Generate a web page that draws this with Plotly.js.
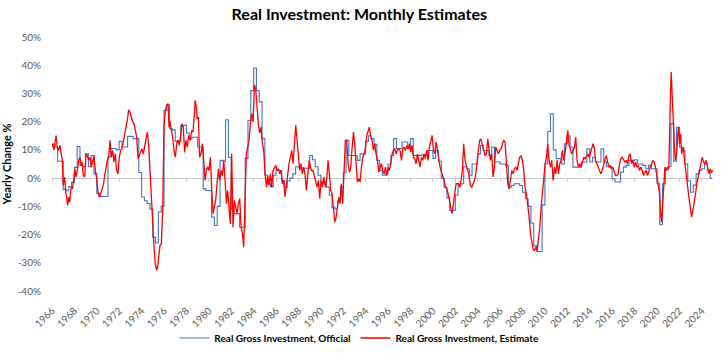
<!DOCTYPE html>
<html><head><meta charset="utf-8">
<script src="https://cdn.plot.ly/plotly-3.0.1.min.js"></script>
<style>html,body{margin:0;padding:0;background:#fff}#chart{width:723px;height:354px}</style>
</head><body><div id="chart"></div>
<script>
// Official series: quarterly yearly change %, starting 1966 Q1
const officialStartYear = 1966;
const officialQuarterly = [
 12, 11, 6, 6,            // 1966
 -4, -4.5, -3, -1.5,      // 1967
 3.8, 11.2, 4.5, 4,       // 1968
 8.6, 4, 8, 1.5,          // 1969
 -5.5, -6.5, -6.5, -6.5,  // 1970
 7.5, 10.5, 10.5, 10,     // 1971
 13, 11, 11, 14.8,        // 1972
 14.8, 14, 14, 2,         // 1973
 -6.7, -8, -9, -11,       // 1974
 -21, -23, -12, -10,      // 1975
 24, 26, 17.5, 17,        // 1976
 13, 13, 18.7, 18.7,      // 1977
 16, 14, 14.5, 14.5,      // 1978
 11, 11, -3.8, -4.4,      // 1979
 -4.5, -13.8, -16.8, -10, // 1980
 6.3, 6, 20.7, 7.4,       // 1981
 -11, -12.6, -12.6, -17.4,// 1982
 -17.4, 7, 20.4, 31,      // 1983
 39, 31, 27, 14,          // 1984
 1, -2, -3, 1,            // 1985
 2.7, 2.7, -0.9, -3.2,    // 1986
 -1, 0, 1.5, 4,           // 1987
 3.9, 3.5, 3.5, 3.5,      // 1988
 8, 6.5, 4, 1,            // 1989
 -1.4, -1.4, -3.2, -6,    // 1990
 -10.3, -10.9, -8, -3,    // 1991
 2, 13.4, 8, 8,           // 1992
 8, 6.3, 8.6, 8.6,        // 1993
 13, 15, 14, 12,          // 1994
 6.3, 2.7, 1, 1.5,        // 1995
 5, 8, 14, 10.5,          // 1996
 10.5, 12.8, 12.8, 10.4,  // 1997
 14, 8, 8, 8,             // 1998
 8.3, 8.3, 9.8, 9.8,      // 1999
 7, 9.8, 6, 0,            // 2000
 -3.2, -7, -11.5, -11.5,  // 2001
 -6, -2.6, -2, 4,         // 2002
 3.3, 1, 5, 5,            // 2003
 8.6, 11.6, 9.8, 9.8,     // 2004
 8, 11, 5.7, 5.7,         // 2005
 5, 5, 4.5, -3.2,         // 2006
 -2.6, -2, -2, -2.6,      // 2007
 -5, -7.3, -10, -16,      // 2008
 -24, -26, -26, -9.5,     // 2009
 5, 16.5, 22.8, 10,       // 2010
 6.9, 6.9, 5, 12.2,       // 2011
 15, 11, 3.9, 3.9,        // 2012
 3.9, 5.7, 5.7, 10.4,     // 2013
 5.7, 7.4, 5.7, 5.7,      // 2014
 10.4, 5.7, 4, 3.9,       // 2015
 -0.2, -1.4, -1.4, 2.1,   // 2016
 3.9, 4.5, 6.3, 6.3,      // 2017
 6.5, 5, 5, 4.5,          // 2018
 3.3, 4.5, 3.3, 3.3,      // 2019
 -2, -16.5, -2, 3,        // 2020
 4, 19.3, 6, 18,          // 2021
 11, 9.8, 5, -1,          // 2022
 -5, -2.5, 1.5, 2.7,      // 2023
 3.3, 5, 2.7, 0           // 2024
];
const officialEnd = "2024-12-01";

// Estimate series: monthly-ish readings (decimal year, yearly change %)
const estimateTimes = [
1966.00,1966.06,1966.18,1966.36,1966.47,1966.59,1966.71,1966.80,1966.92,1967.01,1967.13,1967.22,1967.31,1967.40,1967.49,1967.58,1967.67,1967.75,1967.84,1967.96,
1968.05,1968.14,1968.26,1968.38,1968.50,1968.59,1968.68,1968.80,1968.92,1969.03,1969.15,1969.27,1969.39,1969.51,1969.63,1969.75,1969.87,1969.99,
1970.11,1970.22,1970.34,1970.46,1970.58,1970.70,1970.82,1970.94,1971.06,1971.18,1971.30,1971.42,1971.53,1971.65,1971.77,1971.89,
1972.01,1972.13,1972.25,1972.37,1972.49,1972.61,1972.72,1972.84,1972.96,1973.08,1973.20,1973.32,1973.44,1973.56,1973.68,1973.80,1973.92,
1974.03,1974.15,1974.27,1974.39,1974.51,1974.63,1974.75,1974.87,1974.99,1975.11,1975.22,1975.34,1975.43,1975.52,1975.64,1975.76,1975.88,
1976.00,1976.12,1976.24,1976.36,1976.45,1976.53,1976.65,1976.77,1976.89,1977.01,1977.13,1977.25,1977.37,1977.49,1977.61,1977.72,1977.84,1977.96,
1978.08,1978.20,1978.35,1978.47,1978.59,1978.71,1978.77,1978.89,1978.95,1979.07,1979.18,1979.30,1979.42,1979.54,1979.66,1979.78,1979.90,
1980.02,1980.14,1980.26,1980.38,1980.49,1980.61,1980.73,1980.85,1980.97,1981.09,1981.21,1981.33,1981.45,1981.57,1981.68,1981.80,1981.92,
1982.04,1982.16,1982.28,1982.40,1982.52,1982.64,1982.76,1982.88,1983.00,1983.11,1983.23,1983.35,1983.47,1983.59,1983.71,1983.83,1983.95,
1984.07,1984.18,1984.30,1984.42,1984.54,1984.66,1984.78,1984.90,1985.02,1985.14,1985.26,1985.37,1985.49,1985.61,1985.73,1985.85,1985.97,
1986.09,1986.21,1986.33,1986.45,1986.57,1986.68,1986.80,1986.92,1987.04,1987.16,1987.28,1987.40,1987.52,1987.64,1987.76,1987.88,
1988.00,1988.11,1988.23,1988.35,1988.47,1988.59,1988.71,1988.83,1988.95,1989.07,1989.18,1989.30,1989.42,1989.54,1989.66,1989.78,1989.90,
1990.02,1990.14,1990.26,1990.41,1990.53,1990.64,1990.76,1990.88,1991.00,1991.12,1991.24,1991.36,1991.48,1991.60,1991.72,1991.83,1991.95,
1992.07,1992.19,1992.31,1992.43,1992.55,1992.67,1992.79,1992.91,1993.02,1993.14,1993.26,1993.38,1993.50,1993.62,1993.74,1993.86,1993.98,
1994.10,1994.22,1994.33,1994.45,1994.57,1994.69,1994.81,1994.93,1995.05,1995.17,1995.29,1995.41,1995.52,1995.64,1995.76,1995.88,
1996.00,1996.12,1996.24,1996.36,1996.48,1996.60,1996.72,1996.83,1996.95,1997.07,1997.19,1997.31,1997.43,1997.55,1997.67,1997.79,1997.91,
1998.02,1998.14,1998.26,1998.38,1998.50,1998.62,1998.74,1998.86,1998.98,1999.10,1999.21,1999.33,1999.45,1999.57,1999.69,1999.81,1999.93,
2000.05,2000.17,2000.29,2000.40,2000.52,2000.64,2000.76,2000.88,2001.00,2001.12,2001.24,2001.36,2001.48,2001.60,2001.71,2001.83,2001.95,
2002.07,2002.28,2002.40,2002.52,2002.63,2002.75,2002.87,2002.99,2003.11,2003.23,2003.35,2003.47,2003.59,2003.71,2003.83,2003.94,
2004.06,2004.18,2004.30,2004.42,2004.54,2004.66,2004.78,2004.90,2005.02,2005.13,2005.25,2005.37,2005.49,2005.61,2005.73,2005.85,2005.97,
2006.09,2006.21,2006.33,2006.44,2006.56,2006.68,2006.80,2006.92,2007.04,2007.16,2007.28,2007.40,2007.52,2007.63,2007.75,2007.87,2007.99,
2008.11,2008.23,2008.35,2008.47,2008.59,2008.71,2008.83,2008.94,2009.06,2009.18,2009.30,2009.42,2009.54,2009.66,2009.78,2009.90,
2010.02,2010.13,2010.25,2010.37,2010.49,2010.61,2010.73,2010.85,2010.97,2011.09,2011.21,2011.33,2011.44,2011.56,2011.68,2011.80,2011.92,
2012.04,2012.16,2012.28,2012.40,2012.52,2012.64,2012.75,2012.87,2012.99,2013.11,2013.23,2013.35,2013.47,2013.59,2013.71,2013.83,2013.95,
2014.06,2014.18,2014.30,2014.42,2014.52,2014.64,2014.75,2014.87,2014.99,2015.11,2015.23,2015.35,2015.47,2015.59,2015.71,2015.83,2015.94,
2016.06,2016.18,2016.30,2016.42,2016.54,2016.66,2016.78,2016.90,2017.02,2017.14,2017.25,2017.37,2017.49,2017.61,2017.73,2017.85,2017.97,
2018.09,2018.21,2018.33,2018.44,2018.56,2018.68,2018.80,2018.92,2019.04,2019.16,2019.28,2019.40,2019.52,2019.64,2019.75,2019.87,2019.99,
2020.11,2020.23,2020.35,2020.41,2020.50,2020.59,2020.71,2020.83,2020.94,2021.06,2021.12,2021.21,2021.27,2021.36,2021.42,2021.48,2021.57,2021.66,2021.75,2021.84,2021.93,
2022.02,2022.11,2022.20,2022.28,2022.37,2022.46,2022.55,2022.64,2022.73,2022.85,2022.97,2023.09,2023.21,2023.33,2023.44,2023.56,2023.68,2023.80,2023.92,
2024.04,2024.16,2024.28,2024.40,2024.52,2024.64,2024.75,2024.87,2024.99
];
const estimateValues = [
11,12.2,10.0,15.1,11.0,9.8,11.6,8.6,6.3,-2.6,0.4,-4.4,-7.9,-9.7,-6.7,-8.5,-4.4,-3.2,-3.8,-0.2,
3.3,0.4,2.7,6.3,7.4,4.5,5.7,0.9,0.4,8.6,8.0,6.3,7.4,3.9,6.3,8.0,2.7,-0.2,
-5.0,-6.7,-5.6,-3.8,-2.6,0.9,3.9,6.3,7.4,13.4,7.4,9.8,5.7,8.6,2.7,1.5,
7.4,9.8,10.4,13.4,16.3,18.1,20.4,24.2,23.4,21.6,19.9,19.3,16.3,14.5,6.9,8.0,9.8,
10.4,8.6,11.0,13.9,16.3,11.6,1.5,-9.1,-17.4,-24.5,-30.4,-32.7,-31.6,-26.8,-23.9,-23.3,-11.5,
18.1,24.0,25.8,26.4,18.1,20.4,16.9,14.5,9.8,7.4,12.2,13.4,11.6,15.7,19.3,18.1,9.2,13.4,
11.0,15.1,13.4,16.9,16.3,22.8,27.5,25.2,21.0,21.6,7.4,8.6,12.2,6.3,-0.8,2.7,3.9,
2.7,7.4,-4.4,-12.6,-10.3,-7.9,-2.0,3.3,-0.8,2.7,0.9,6.3,-0.8,-9.1,-4.4,-10.3,-16.2,
8.6,-17.4,-7.9,-10.3,-12.6,-9.1,-7.3,-17.4,-19.7,-24.5,-5.6,8.6,11.0,13.4,19.3,22.8,19.9,
33.0,31.7,24.0,19.3,16.0,18.1,12.2,9.8,1.5,-3.2,0.9,-2.6,1.5,-3.2,2.7,3.9,4.5,
2.7,3.3,1.5,2.7,-2.0,-0.8,-6.7,-2.0,2.7,5.1,7.4,9.8,5.1,12.2,18.7,13.4,
6.3,2.7,5.1,1.5,3.9,1.5,-4.4,1.5,6.3,3.9,2.7,2.7,0.4,-2.0,-3.2,-0.8,-7.3,
-0.8,-3.2,0.4,-3.2,-0.2,6.3,1.5,-4.4,-5.6,-11.5,-15.6,-13.8,-10.3,-6.7,-9.1,-2.0,-9.1,
2.7,13.4,13.4,5.1,2.1,3.9,11.0,16.3,12.2,5.1,-1.4,-0.2,-1.4,3.9,7.4,8.6,11.0,
15.1,16.3,18.1,14.5,13.4,9.8,12.2,8.6,6.3,2.1,3.9,5.1,2.7,1.5,3.9,0.9,
3.9,2.7,5.1,8.6,9.8,10.4,8.6,10.0,10.4,9.8,6.3,10.4,11.0,9.8,11.6,10.4,12.2,
9.2,11.6,7.4,6.9,5.1,8.6,6.3,3.9,7.4,6.3,8.6,6.9,9.8,6.3,11.0,13.4,15.1,
9.8,8.6,12.8,9.8,8.0,3.9,2.1,0.9,-0.8,-3.2,-3.8,-5.6,-7.9,-10.3,-12.6,-9.1,-5.6,
-2.0,-2.0,-3.2,-0.8,2.7,12.2,6.3,4.5,2.7,0.9,-2.6,-3.2,-2.0,-0.8,1.5,6.3,
9.8,13.4,13.9,11.6,9.8,8.0,8.6,13.9,9.8,6.3,8.6,0.4,3.9,11.0,9.8,8.6,9.8,
10.4,12.2,13.4,12.8,6.3,-2.0,-3.8,0.4,2.7,1.5,3.3,3.9,2.7,5.1,7.4,8.0,6.3,
2.7,-3.2,-5.6,-9.1,-13.8,-19.7,-23.3,-25.1,-25.7,-24.5,-25.7,-22.1,-17.4,-10.3,-4.4,0.4,
5.1,7.4,12.2,6.3,3.9,6.3,-0.8,3.9,1.5,6.3,1.5,5.1,6.3,9.8,6.3,8.6,12.2,
16.9,11.6,9.8,8.6,9.8,11.0,14.5,6.3,3.9,5.1,3.9,6.3,7.4,6.9,8.0,8.6,7.4,
9.2,11.0,12.2,10.4,6.3,5.1,3.9,2.7,1.5,2.7,5.1,6.3,8.0,6.3,3.9,4.5,3.3,
3.9,2.7,0.9,0.9,1.5,5.1,6.9,7.4,6.3,5.7,6.3,5.1,8.0,8.6,5.1,6.3,3.9,
5.7,3.9,4.5,2.7,3.9,2.7,0.9,2.1,2.7,0.9,2.7,3.9,5.1,6.3,5.7,3.9,0.9,
-3.2,-5.6,-13.8,-15.6,-10.3,-2.0,3.9,2.7,3.9,3.3,18.1,29.9,37.6,28.7,18.1,13.4,9.8,6.3,8.6,14.5,18.1,
12.2,15.7,8.6,10.4,11.0,6.3,2.7,-0.8,-3.2,-6.7,-10.3,-13.8,-11.5,-9.1,-5.6,-2.0,0.4,2.7,6.3,
7.4,5.7,5.1,6.3,3.9,1.5,3.3,2.1,2.7
];

const seriesNames = ["Real Gross Investment, Official", "Real Gross Investment, Estimate"];
const yTickVals = [-40, -30, -20, -10, 0, 10, 20, 30, 40, 50];
const yTickText = ["-40%", "-30%", "-20%", "-10%", "0%", "10%", "20%", "30%", "40%", "50%"];

function decYearToDate(t) {
  const y = Math.floor(t);
  const a = Date.UTC(y, 0, 1), b = Date.UTC(y + 1, 0, 1);
  return new Date(a + (t - y) * (b - a)).toISOString().slice(0, 10);
}
function quarterDate(i) {
  const y = officialStartYear + Math.floor(i / 4);
  const m = (i % 4) * 3 + 1;
  return y + "-" + String(m).padStart(2, "0") + "-01";
}

const offX = officialQuarterly.map((v, i) => quarterDate(i));
const offY = officialQuarterly.slice();
offX.push(officialEnd);
offY.push(officialQuarterly[officialQuarterly.length - 1]);

const estX = estimateTimes.map(decYearToDate);

const tickColor = "#595959";
const FONT = "Lato, 'Open Sans', sans-serif";

const traces = [
  { x: offX, y: offY, type: "scatter", mode: "lines", name: seriesNames[0],
    line: { color: "#4472C4", width: 1.1, shape: "hv" }, xaxis: "x", yaxis: "y" },
  { x: estX, y: estimateValues, type: "scatter", mode: "lines", name: seriesNames[1],
    line: { color: "#FF0000", width: 1.3 }, xaxis: "x2", yaxis: "y" }
];

const xr = ["1966-01-01", "2025-01-01"];
const layout = {
  width: 723, height: 354,
  paper_bgcolor: "#ffffff", plot_bgcolor: "#ffffff",
  margin: { l: 52, r: 10, t: 37, b: 63, autoexpand: false },
  font: { family: FONT, color: tickColor },
  title: { text: "Real Investment: Monthly Estimates", x: 0.497, xanchor: "center", xref: "container",
           y: 0.96, yanchor: "middle", yref: "container",
           font: { family: FONT, size: 16, color: "#000000", weight: "bold" } },
  xaxis: { type: "date", range: xr, tick0: "1966-01-01", dtick: "M24", tickformat: "%Y",
           tickangle: -45, showgrid: false, zeroline: false, showline: false,
           ticks: "outside", ticklen: 9, tickcolor: "rgba(0,0,0,0)", automargin: false,
           tickfont: { family: FONT, size: 10, color: tickColor }, fixedrange: true },
  xaxis2: { type: "date", range: xr, overlaying: "x", anchor: "free", position: 4/9,
            tick0: "1966-01-01", dtick: "M24", showticklabels: false, showgrid: false,
            zeroline: false, showline: true, linecolor: "#C8C8C8", linewidth: 1, automargin: false,
            ticks: "outside", ticklen: 3, tickcolor: "#C8C8C8", layer: "below traces" },
  yaxis: { range: [-40, 50], tickvals: yTickVals, ticktext: yTickText, automargin: false,
           showgrid: false, zeroline: false, showline: false,
           ticks: "outside", ticklen: 8, tickcolor: "rgba(0,0,0,0)",
           tickfont: { family: FONT, size: 10, color: tickColor },
           title: { text: "Yearly Change %", standoff: 4,
                    font: { family: FONT, size: 11, color: "#000000", weight: "bold" } } },
  showlegend: true,
  legend: { orientation: "h", x: 0.465, xanchor: "center", y: -0.185, yanchor: "middle",
            font: { family: FONT, size: 10, color: "#000000", weight: "bold" },
            itemwidth: 30, bgcolor: "rgba(0,0,0,0)" }
};

Plotly.newPlot("chart", traces, layout, { staticPlot: true, displayModeBar: false });
</script>
</body></html>
